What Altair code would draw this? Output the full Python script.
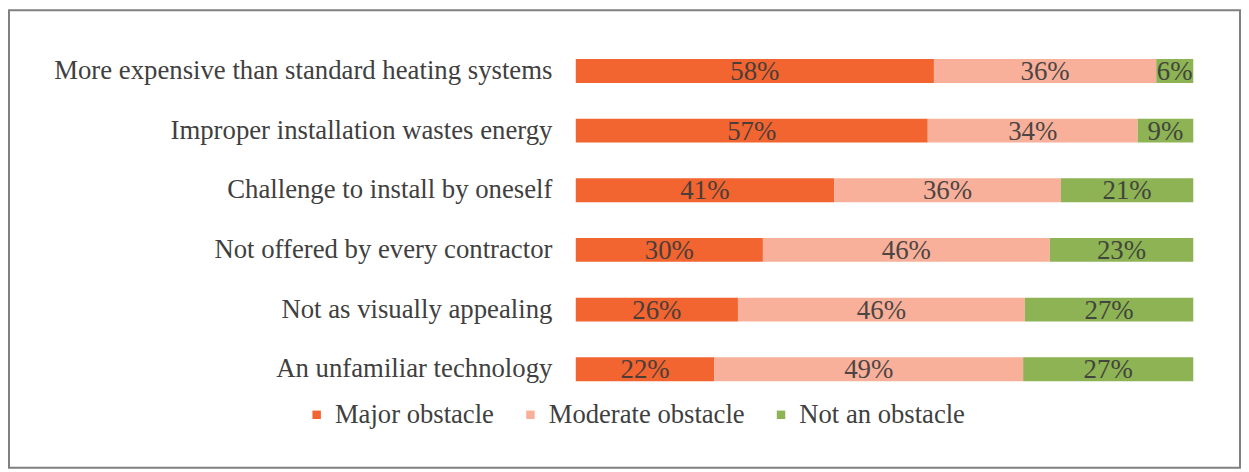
import altair as alt
import pandas as pd

items = [
    "More expensive than standard heating systems",
    "Improper installation wastes energy",
    "Challenge to install by oneself",
    "Not offered by every contractor",
    "Not as visually appealing",
    "An unfamiliar technology",
]
categories = ["Major obstacle", "Moderate obstacle", "Not an obstacle"]
major = [58, 57, 41, 30, 26, 22]
moderate = [36, 34, 36, 46, 46, 49]
not_obstacle = [6, 9, 21, 23, 27, 27]
colors = ["#F26430", "#F8B09A", "#8DB354"]

rows = []
for i, it in enumerate(items):
    for k, (cat, vals) in enumerate(zip(categories, [major, moderate, not_obstacle])):
        rows.append({"item": it, "cat": cat, "order": k, "value": vals[i],
                     "label": f"{vals[i]}%"})
df = pd.DataFrame(rows)

W, H = 621, 360
PL, PT, PR, PB = 571, 32, 48, 70
FONT = "'Liberation Serif', 'Times New Roman', serif"

base = alt.Chart(df).transform_stack(
    stack="value", groupby=["item"], sort=[alt.SortField("order")],
    as_=["x0", "x1"], offset="normalize"
).transform_calculate(mid="(datum.x0 + datum.x1) / 2")

yenc = alt.Y("item:N", sort=items, title=None,
             scale=alt.Scale(paddingInner=0.6, paddingOuter=0.3),
             axis=alt.Axis(domain=False, ticks=False, labelFont=FONT, labelFontSize=26.9,
                           labelColor="#404040", labelPadding=24, labelLimit=600))
xscale = alt.Scale(domain=[0, 1], nice=False)

bars = base.mark_bar().encode(
    x=alt.X("x0:Q", scale=xscale, axis=None),
    x2="x1:Q",
    y=yenc,
    color=alt.Color("cat:N", sort=categories,
                    scale=alt.Scale(domain=categories, range=colors),
                    legend=alt.Legend(title=None, orient="none", direction="horizontal",
                                      legendX=-274, legendY=362, symbolType="square",
                                      symbolSize=72, symbolStrokeWidth=0, symbolOpacity=1,
                                      labelFont=FONT, labelFontSize=26.8, labelColor="#404040",
                                      columnPadding=23, labelOffset=5, padding=0,
                                      labelLimit=400)),
)

texts = base.mark_text(font=FONT, fontSize=27, color="#3a3a3a", opacity=0.9,
                       baseline="middle", dy=1).encode(
    x=alt.X("mid:Q", scale=xscale),
    y=alt.Y("item:N", sort=items),
    text="label:N",
)

frame = alt.Chart(pd.DataFrame({"f": [0]})).mark_rect(
    fill=None, stroke="#808080", strokeWidth=2
).encode(
    x=alt.value(-PL + 1), x2=alt.value(W + PR - 1),
    y=alt.value(-PT + 1), y2=alt.value(H + PB - 1),
)

chart = alt.layer(frame, bars, texts).properties(
    width=W, height=H,
    background="white",
    autosize=alt.AutoSizeParams(type="none"),
    padding={"left": PL, "top": PT, "right": PR, "bottom": PB},
).configure(
    font=FONT,
).configure_view(
    stroke=None, strokeWidth=0
).configure_legend(
    labelFont=FONT
).configure_text(
    font=FONT
)

chart.save("out.html", embed_options={"renderer": "svg", "actions": False})
